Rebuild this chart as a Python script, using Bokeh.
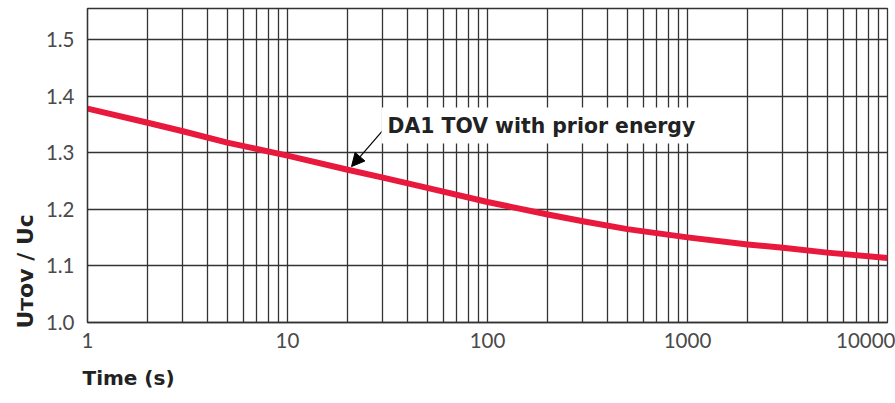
from bokeh.plotting import figure
from bokeh.models import Range1d, FixedTicker, Label, Arrow, NormalHead, Title
from bokeh.embed import file_html
from bokeh.resources import INLINE

# ---- data ----
time_s = [1, 2, 3, 5, 10, 20, 30, 50, 100, 200, 300, 500, 1000, 2000, 3000, 5000, 10000]
u_ratio = [1.378, 1.353, 1.338, 1.318, 1.295, 1.270, 1.256, 1.238, 1.213, 1.191,
           1.179, 1.165, 1.1505, 1.138, 1.132, 1.1235, 1.114]
x_major = [1, 10, 100, 1000, 10000]
x_tick_labels = ["1", "10", "100", "1000", "10000"]
x_minor = [m * d for d in [1, 10, 100, 1000] for m in range(2, 10)]
y_ticks = [1.0, 1.1, 1.2, 1.3, 1.4, 1.5]
y_tick_labels = ["1.0", "1.1", "1.2", "1.3", "1.4", "1.5"]
series_label = "DA1 TOV with prior energy"
x_title = "Time (s)"
y_title = "U\u1d1b\u1d0f\u1d20 / U\u1d04"

GRID = "#333333"
RED = "#E8193C"
BOLD_FONT = "DejaVu Sans"

p = figure(width=895, height=403, x_axis_type="log",
           x_range=Range1d(1, 10000), y_range=Range1d(1.0, 1.555),
           output_backend="svg", toolbar_location=None,
           min_border_left=87, min_border_right=8, min_border_top=8,
           min_border_bottom=81)

p.outline_line_color = GRID
p.outline_line_width = 1.3
p.background_fill_color = "white"

# axes
p.xaxis.ticker = FixedTicker(ticks=x_major, minor_ticks=x_minor)
p.yaxis.ticker = FixedTicker(ticks=y_ticks)
p.xaxis.major_label_overrides = dict(zip(x_major, x_tick_labels))
p.yaxis.major_label_overrides = dict(zip(y_ticks, y_tick_labels))
for ax in (p.xaxis, p.yaxis):
    ax.major_tick_line_color = None
    ax.minor_tick_line_color = None
    ax.axis_line_color = GRID
    ax.axis_line_width = 1.3
    ax.major_label_text_font = "Lato"
    ax.major_label_text_font_size = "20.5px"
    ax.major_label_text_color = "#4a4a4a"
p.xaxis.major_label_standoff = 4
p.yaxis.major_label_standoff = 7

# grids
p.xgrid.grid_line_color = GRID
p.xgrid.grid_line_width = 1.3
p.xgrid.minor_grid_line_color = GRID
p.xgrid.minor_grid_line_width = 1.3
p.ygrid.grid_line_color = GRID
p.ygrid.grid_line_width = 1.3

# curve
p.line(time_s, u_ratio, line_width=6, color=RED, line_cap="butt", line_join="round")


def px_x(px):
    return 10 ** ((px - 87) / 200)


def px_y(py):
    return 1.0 + (322 - py) / 566


# annotation
p.add_layout(Arrow(end=NormalHead(size=13, fill_color="black", line_color="black", line_width=1),
                   x_start=px_x(383), y_start=px_y(129),
                   x_end=px_x(351), y_end=px_y(166),
                   line_color="black", line_width=1.2))
p.add_layout(Label(x=px_x(381), y=px_y(125), text=series_label,
                   text_font=BOLD_FONT, text_font_style="bold", text_font_size="20.4px",
                   text_color="#222222", text_align="left", text_baseline="middle",
                   background_fill_color="white", padding=6))

# axis titles
p.add_layout(Title(text=x_title, align="left", offset=-5, standoff=27,
                   text_line_height=0.8,
                   text_font=BOLD_FONT, text_font_style="bold", text_font_size="20px",
                   text_color="#222222"), "below")
p.add_layout(Title(text=y_title, align="left", offset=-6, standoff=10,
                   text_font=BOLD_FONT, text_font_style="bold", text_font_size="22px",
                   text_color="#222222"), "left")

open("out.html", "w").write(file_html(p, INLINE))
